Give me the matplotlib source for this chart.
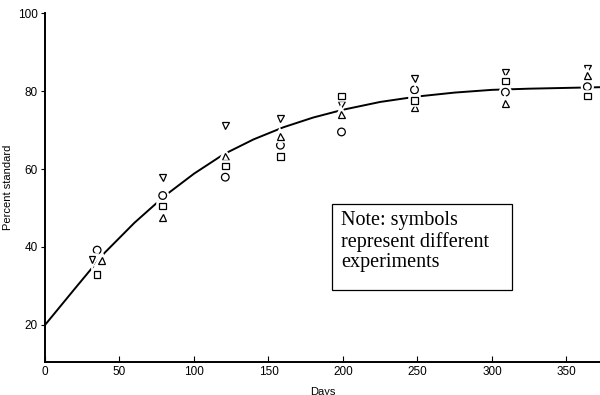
import matplotlib
matplotlib.use('Agg')
import matplotlib.pyplot as plt
import matplotlib.patheffects as pe
from matplotlib.patches import Rectangle

# fitted curve
curve_days = [0, 20, 40, 60, 80, 100, 120, 140, 160, 180, 200, 225, 250, 275, 300, 325, 350, 375]
curve_pct = [20, 29.3, 38.5, 46.2, 53, 58.8, 63.8, 67.6, 70.7, 73.2, 75.2, 77.2, 78.6, 79.6, 80.3, 80.6, 80.8, 81]

# experiments (one list per symbol)
circle_days = [35, 79, 121, 158, 199, 248, 309, 364]
circle_pct = [39.2, 53.2, 57.9, 66.1, 69.5, 80.3, 79.7, 81.1]
down_days = [31.5, 79, 121, 158, 199, 248, 309, 364]
down_pct = [36.8, 57.9, 71.1, 72.9, 76.6, 83.2, 84.7, 85.8]
up_days = [38, 79, 121, 158, 199, 248, 309, 364]
up_pct = [36.6, 47.6, 63.2, 68.4, 73.9, 75.8, 76.8, 83.9]
square_days = [35, 79, 121, 158, 199, 248, 309, 364]
square_pct = [32.9, 50.5, 60.8, 63.2, 78.7, 77.6, 82.6, 78.7]

x_ticks = [0, 50, 100, 150, 200, 250, 300, 350]
y_ticks = [20, 40, 60, 80, 100]

plt.rcParams['font.family'] = ['Liberation Sans', 'DejaVu Sans']

fig = plt.figure(figsize=(6, 3.95), dpi=100)
ax = fig.add_axes([0.075, 0.0835, 0.925, 0.8835])

ax.plot(curve_days, curve_pct, color='black', lw=1.4, zorder=2)

halo = [pe.Stroke(linewidth=4, foreground='white'), pe.Normal()]
series = [(circle_days, circle_pct, 'o', 5.5),
          (down_days, down_pct, 'v', 4.8),
          (up_days, up_pct, '^', 4.8),
          (square_days, square_pct, 's', 4.8)]
for d, p, m, ms in series:
    ax.plot(d, p, linestyle='none', marker=m, ms=ms, mfc='white', mec='black',
            mew=0.9, zorder=3, path_effects=halo)

ax.set_xlim(0, 372.5)
ax.set_ylim(10.5, 100)
ax.set_xticks(x_ticks)
ax.set_yticks(y_ticks)
ax.spines['top'].set_visible(False)
ax.spines['right'].set_visible(False)
ax.spines['left'].set_linewidth(1.4)
ax.spines['bottom'].set_linewidth(1.4)
ax.tick_params(axis='x', direction='in', length=4, labelsize=8.5, pad=3)
ax.tick_params(axis='y', direction='out', length=3, labelsize=8.5, pad=2)
ax.set_xlabel('Days', fontsize=8, labelpad=6)
ax.set_ylabel('Percent standard', fontsize=8, labelpad=3.5)

# note box
fig.patches.append(Rectangle((0.553, 0.266), 0.30, 0.218, transform=fig.transFigure,
                             fill=False, edgecolor='black', lw=0.9))
fig.text(0.568, 0.465, 'Note: symbols\nrepresent different\nexperiments',
         family='Liberation Serif', fontsize=14.5, va='top', ha='left', linespacing=1.1)

plt.savefig('out.png', dpi=100)
